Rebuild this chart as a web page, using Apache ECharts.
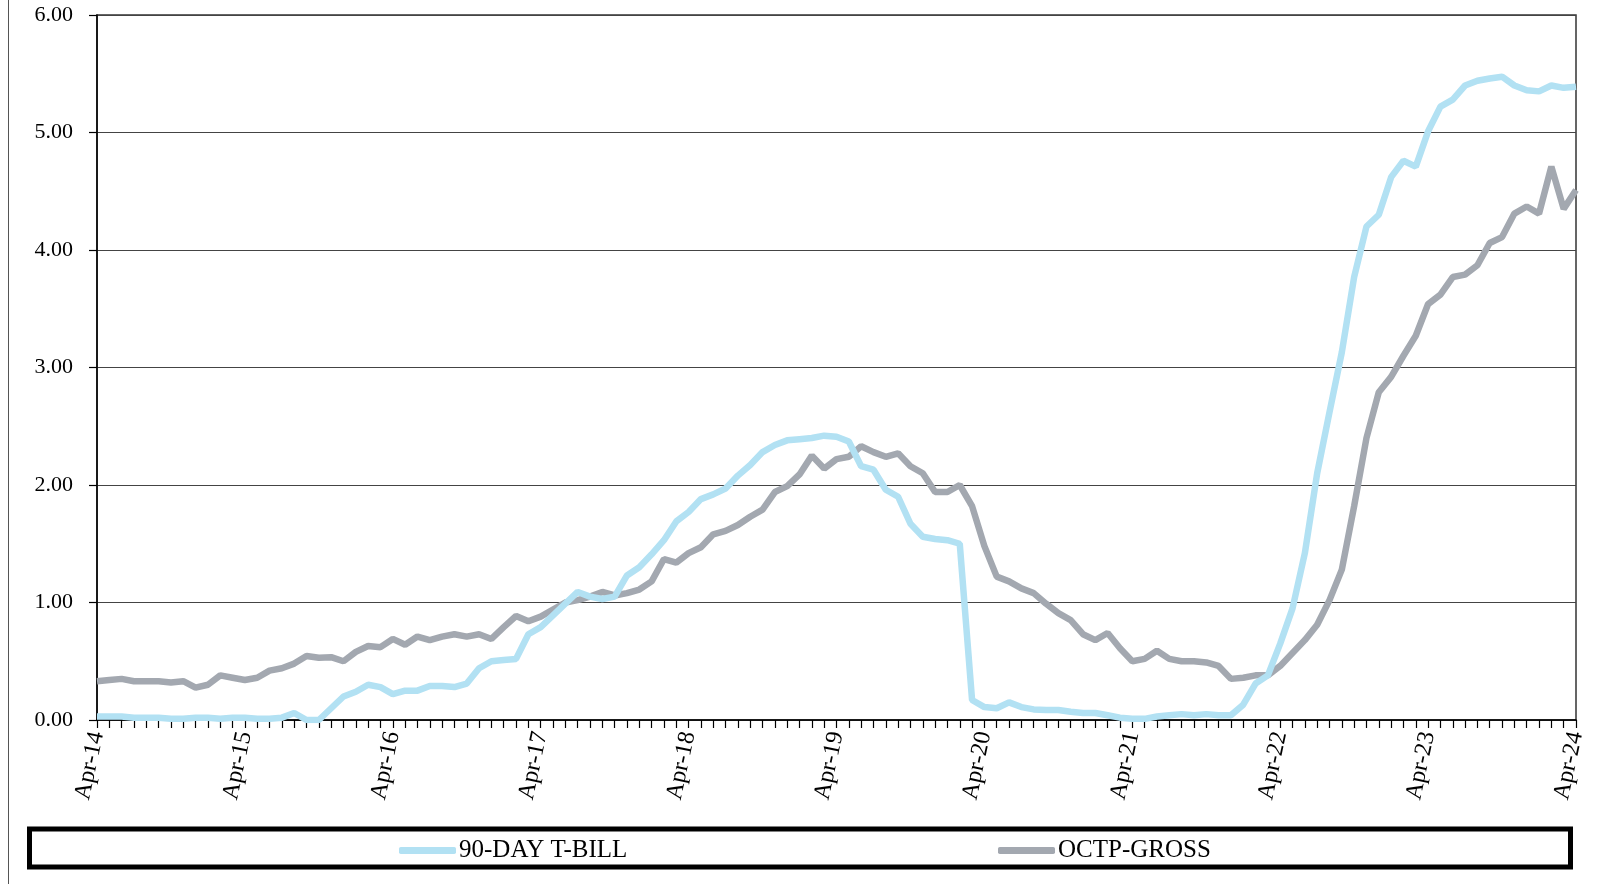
<!DOCTYPE html>
<html><head><meta charset="utf-8">
<script src="https://cdn.jsdelivr.net/npm/echarts@6/dist/echarts.min.js"></script>
<style>html,body{margin:0;padding:0;background:#fff}#c{width:1606px;height:884px}</style>
</head><body><div id="c"></div>
<script>
// Category labels (monthly, Apr-14 .. Apr-24)
const monthNames = ['Jan','Feb','Mar','Apr','May','Jun','Jul','Aug','Sep','Oct','Nov','Dec'];
const startYear = 14, startMonth = 3, monthCount = 121;
const categories = [];
for (let i = 0; i < monthCount; i++) {
  const m = (startMonth + i) % 12;
  const y = startYear + Math.floor((startMonth + i) / 12);
  categories.push(monthNames[m] + '-' + String(y).padStart(2, '0'));
}
const seriesNames = ['90-DAY T-BILL', 'OCTP-GROSS'];
const tbill = [
  0.03,0.03,0.03,0.02,0.02,0.02,0.01,0.01,0.02,0.02,0.01,0.02,
  0.02,0.01,0.01,0.02,0.06,0.00,0.00,0.10,0.20,0.24,0.30,0.28,
  0.22,0.25,0.25,0.29,0.29,0.28,0.31,0.44,0.50,0.51,0.52,0.73,
  0.79,0.89,0.99,1.09,1.05,1.03,1.05,1.23,1.30,1.41,1.53,1.69,
  1.77,1.88,1.92,1.97,2.08,2.17,2.28,2.34,2.38,2.39,2.40,2.42,
  2.41,2.37,2.16,2.13,1.96,1.90,1.67,1.56,1.54,1.53,1.50,0.17,
  0.11,0.10,0.15,0.11,0.09,0.085,0.085,0.07,0.06,0.06,0.04,0.02,
  0.01,0.01,0.03,0.04,0.05,0.04,0.05,0.04,0.04,0.13,0.31,0.38,
  0.65,0.95,1.42,2.10,2.62,3.13,3.77,4.20,4.30,4.62,4.76,4.71,
  5.01,5.22,5.28,5.40,5.44,5.46,5.475,5.40,5.36,5.35,5.40,5.38,5.39
];
const octp = [
  0.33,0.34,0.35,0.33,0.33,0.33,0.32,0.33,0.275,0.30,0.38,0.36,
  0.34,0.36,0.42,0.44,0.48,0.545,0.53,0.535,0.50,0.58,0.63,0.62,
  0.69,0.64,0.71,0.68,0.71,0.73,0.71,0.73,0.69,0.79,0.885,0.84,
  0.88,0.94,1.00,1.02,1.05,1.09,1.06,1.08,1.11,1.18,1.37,1.34,
  1.42,1.47,1.58,1.61,1.66,1.73,1.79,1.94,1.99,2.09,2.25,2.14,
  2.22,2.24,2.33,2.28,2.24,2.27,2.16,2.10,1.94,1.94,2.00,1.82,
  1.48,1.22,1.18,1.12,1.08,0.99,0.91,0.85,0.73,0.68,0.74,0.61,
  0.50,0.52,0.59,0.52,0.50,0.50,0.49,0.46,0.35,0.36,0.38,0.38,
  0.46,0.57,0.68,0.81,1.02,1.28,1.82,2.40,2.79,2.92,3.10,3.27,
  3.54,3.62,3.77,3.79,3.87,4.06,4.11,4.31,4.37,4.31,4.71,4.35,4.51
];

const FONT = '"Liberation Serif","Times New Roman",serif';
const chart = echarts.init(document.getElementById('c'), null, {renderer: 'canvas'});
chart.setOption({
  animation: false,
  backgroundColor: '#fff',
  grid: {left: 97, right: 30, top: 15, bottom: 164, show: true, borderColor: '#333', borderWidth: 1.5, backgroundColor: 'transparent'},
  legend: [
    {data: [seriesNames[0]], left: 394, top: 833, icon: 'roundRect', itemWidth: 57, itemHeight: 7, itemGap: 0,
     textStyle: {fontFamily: FONT, fontSize: 25, color: '#000', padding: [0,0,0,-2]}},
    {data: [seriesNames[1]], left: 993, top: 833, icon: 'roundRect', itemWidth: 57, itemHeight: 7, itemGap: 0,
     textStyle: {fontFamily: FONT, fontSize: 25, color: '#000', padding: [0,0,0,-2]}}
  ],
  xAxis: {
    type: 'category', data: categories, boundaryGap: false,
    axisLine: {lineStyle: {color: '#000', width: 1.5}},
    axisTick: {interval: 0, length: 8, lineStyle: {color: '#000', width: 1.2}},
    axisLabel: {interval: 11, rotate: 78, margin: 12, fontFamily: FONT, fontSize: 24, color: '#000'},
    splitLine: {show: false}
  },
  yAxis: {
    type: 'value', min: 0, max: 6, interval: 1,
    axisLine: {show: true, lineStyle: {color: '#000', width: 1.5}},
    axisTick: {show: true, length: 8, lineStyle: {color: '#000', width: 1.2}},
    axisLabel: {margin: 24, fontFamily: FONT, fontSize: 22, color: '#000', formatter: v => v.toFixed(2)},
    splitLine: {lineStyle: {color: '#444', width: 1.2}}
  },
  series: [
    {name: seriesNames[0], type: 'line', data: tbill, symbol: 'none', lineStyle: {color: '#b2e1f3', width: 6.5}, itemStyle: {color: '#b2e1f3'}, z: 3},
    {name: seriesNames[1], type: 'line', data: octp, symbol: 'none', lineStyle: {color: '#a3a8b0', width: 6.5}, itemStyle: {color: '#a3a8b0'}, z: 2}
  ],
  graphic: [
    {type: 'line', shape: {x1: 8.5, y1: 0, x2: 8.5, y2: 884}, style: {stroke: '#555', lineWidth: 1}},
    {type: 'rect', shape: {x: 29.5, y: 829, width: 1541, height: 38}, style: {fill: 'none', stroke: '#000', lineWidth: 5}}
  ]
});
</script></body></html>
